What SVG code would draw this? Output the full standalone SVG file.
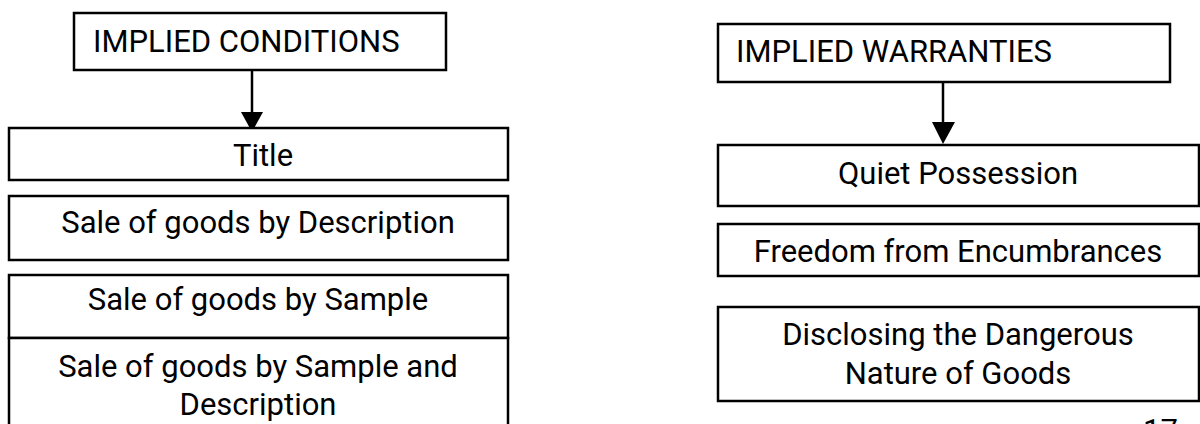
<svg xmlns="http://www.w3.org/2000/svg" width="1200" height="424" viewBox="0 0 1200 424">
  <style>
    .box { fill: #fff; stroke: #000; stroke-width: 2.5; }
    .lbl { font-family: Roboto, "Liberation Sans", sans-serif; font-size: 31px; fill: #000; }
    .mid { text-anchor: middle; }
    .wire { stroke: #000; stroke-width: 2.5; fill: none; }
  </style>
  <rect width="1200" height="424" fill="#fff"/>

  <!-- connectors -->
  <g id="connectors">
    <line class="wire" x1="252" y1="70" x2="252" y2="112"/>
    <path d="M241,112 L263,112 L252,132 Z" fill="#000"/>
    <line class="wire" x1="943" y1="82" x2="943" y2="122"/>
    <path d="M932,122 L955,122 L943,144 Z" fill="#000"/>
  </g>

  <!-- left column: implied conditions -->
  <g id="implied-conditions">
    <rect class="box" x="74" y="13" width="372" height="57"/>
    <text class="lbl" x="93" y="52">IMPLIED CONDITIONS</text>
  </g>
  <g id="title">
    <rect class="box" x="9" y="128" width="499" height="52"/>
    <text class="lbl mid" x="263" y="166">Title</text>
  </g>
  <g id="by-description">
    <rect class="box" x="9" y="196" width="499" height="64"/>
    <text class="lbl mid" x="258" y="233">Sale of goods by Description</text>
  </g>
  <g id="by-sample">
    <rect class="box" x="9" y="275" width="499" height="63"/>
    <text class="lbl mid" x="258" y="310">Sale of goods by Sample</text>
  </g>
  <g id="by-sample-and-description">
    <rect class="box" x="9" y="338" width="499" height="100"/>
    <text class="lbl mid" x="258" y="377">Sale of goods by Sample and</text>
    <text class="lbl mid" x="258" y="415">Description</text>
  </g>

  <!-- right column: implied warranties -->
  <g id="implied-warranties">
    <rect class="box" x="718" y="24" width="452" height="58"/>
    <text class="lbl" x="736" y="62">IMPLIED WARRANTIES</text>
  </g>
  <g id="quiet-possession">
    <rect class="box" x="718" y="145" width="481" height="61"/>
    <text class="lbl mid" x="958" y="184">Quiet Possession</text>
  </g>
  <g id="freedom">
    <rect class="box" x="718" y="224" width="481" height="52"/>
    <text class="lbl mid" x="958" y="262">Freedom from Encumbrances</text>
  </g>
  <g id="dangerous-nature">
    <rect class="box" x="718" y="307" width="481" height="94"/>
    <text class="lbl mid" x="958" y="345">Disclosing the Dangerous</text>
    <text class="lbl mid" x="958" y="384">Nature of Goods</text>
  </g>

  <!-- page number, running off the bottom edge -->
  <text class="lbl" x="1143" y="441">17</text>
</svg>
